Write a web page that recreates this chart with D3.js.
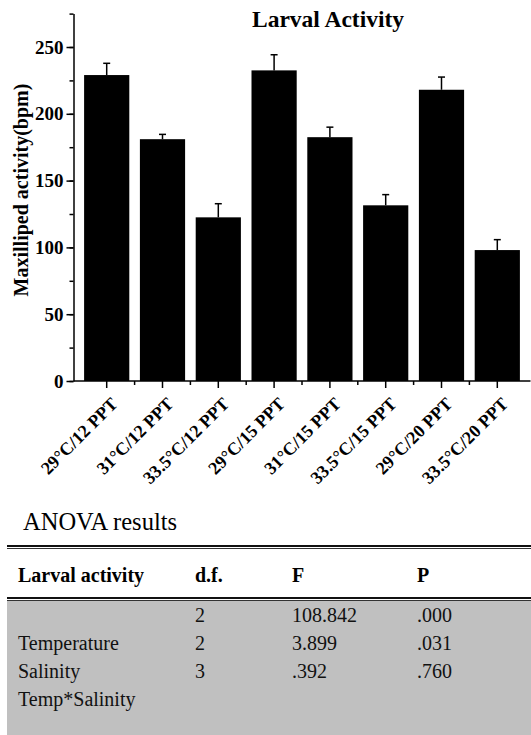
<!DOCTYPE html>
<html>
<head>
<meta charset="utf-8">
<script src="https://cdn.jsdelivr.net/npm/d3@7"></script>
</head>
<body style="margin:0">
<svg id="chart" width="531" height="735"></svg>
<script>
const groups = ["29°C/12 PPT", "31°C/12 PPT", "33.5°C/12 PPT", "29°C/15 PPT", "31°C/15 PPT", "33.5°C/15 PPT", "29°C/20 PPT", "33.5°C/20 PPT"]
const means = [229, 181, 122.5, 232.5, 182.5, 131.5, 218, 98]
const errors = [8.8, 3.6, 10.2, 11.7, 7.5, 8, 9.5, 7.8]
const yTicks = [0, 50, 100, 150, 200, 250]

const anovaHeader = ["Larval activity", "d.f.", "F", "P"]
const anovaRows = [
    ["", "2", "108.842", ".000"],
    ["Temperature", "2", "3.899", ".031"],
    ["Salinity", "3", ".392", ".760"],
    ["Temp*Salinity", "", "", ""]
]

const fontName = "Liberation Serif"

const svg = d3.select("#chart")

const x = d3.scaleBand()
    .domain(groups)
    .range([73.5, 530.5])
    .padding(0.19)

const y = d3.scaleLinear()
    .domain([0, 275])
    .range([381, 13.6])

// minor ticks first so the major ones sit on top
svg.append("g")
    .attr("transform", "translate(73.5,0)")
    .call(d3.axisLeft(y).tickValues(d3.range(0, 276, 25)).tickSize(4).tickFormat(""))
    .call(g => g.select(".domain").remove())
    .call(g => g.selectAll("line").attr("stroke-width", 1.5))

svg.append("g")
    .attr("transform", "translate(73.5,0)")
    .call(d3.axisLeft(y).tickValues(yTicks).tickSize(7).tickSizeOuter(0).tickPadding(3))
    .call(g => g.selectAll("line").attr("stroke-width", 1.5))
    .call(g => g.select(".domain").attr("stroke-width", 1.5))
    .call(g => g.selectAll("text")
        .style("font-family", fontName)
        .style("font-size", "19px")
        .style("font-weight", "bold")
        .attr("fill", "black"))

// bars
svg.selectAll(".bar")
    .data(means)
    .join("rect")
    .attr("class", "bar")
    .attr("x", (d, i) => x(groups[i]))
    .attr("y", d => y(d))
    .attr("width", x.bandwidth())
    .attr("height", d => y(0) - y(d))
    .attr("fill", "black")

// error bars (upper only)
const errG = svg.append("g").attr("stroke", "black").attr("stroke-width", 1.5)
means.forEach((m, i) => {
    const cx = x(groups[i]) + x.bandwidth() / 2
    errG.append("line")
        .attr("x1", cx).attr("x2", cx)
        .attr("y1", y(m)).attr("y2", y(m + errors[i]))
    errG.append("line")
        .attr("x1", cx - 3.5).attr("x2", cx + 3.5)
        .attr("y1", y(m + errors[i])).attr("y2", y(m + errors[i]))
})

// x axis: major ticks at bar centres, minor at band edges
const xAxis = svg.append("g")
    .attr("transform", `translate(0,${y(0)})`)
xAxis.append("line")
    .attr("x1", 73.5).attr("x2", 530.5)
    .attr("stroke", "black").attr("stroke-width", 1.5)
groups.forEach((g, i) => {
    const cx = x(g) + x.bandwidth() / 2
    xAxis.append("line")
        .attr("x1", cx).attr("x2", cx).attr("y1", 0).attr("y2", 7)
        .attr("stroke", "black").attr("stroke-width", 1.5)
    if (i > 0) {
        const bx = x(g) - x.step() * x.paddingInner() / 2
        xAxis.append("line")
            .attr("x1", bx).attr("x2", bx).attr("y1", 0).attr("y2", 4)
            .attr("stroke", "black").attr("stroke-width", 1.5)
    }
})

svg.selectAll(".xlabel")
    .data(groups)
    .join("text")
    .attr("class", "xlabel")
    .attr("transform", d => `translate(${x(d) + x.bandwidth() / 2 + 12},405) rotate(-45)`)
    .attr("text-anchor", "end")
    .style("font-family", fontName)
    .style("font-size", "18px")
    .style("font-weight", "bold")
    .text(d => d)

svg.append("text")
    .attr("transform", "translate(28,190) rotate(-90)")
    .attr("text-anchor", "middle")
    .style("font-family", fontName)
    .style("font-size", "20px")
    .style("font-weight", "bold")
    .text("Maxilliped activity(bpm)")

svg.append("text")
    .attr("x", 328)
    .attr("y", 27)
    .attr("text-anchor", "middle")
    .style("font-family", fontName)
    .style("font-size", "23.5px")
    .style("font-weight", "bold")
    .text("Larval Activity")

// ANOVA table
const colX = [18, 195, 292, 417]

svg.append("text")
    .attr("x", 23)
    .attr("y", 530)
    .style("font-family", fontName)
    .style("font-size", "24.5px")
    .text("ANOVA results")

svg.append("rect")
    .attr("x", 7).attr("y", 600)
    .attr("width", 524).attr("height", 135)
    .attr("fill", "#c0c0c0")

const rules = [546, 598]
rules.forEach(ry => {
    svg.append("line")
        .attr("x1", 7).attr("x2", 531).attr("y1", ry).attr("y2", ry)
        .attr("stroke", "#111").attr("stroke-width", 2)
    svg.append("line")
        .attr("x1", 7).attr("x2", 531).attr("y1", ry + 2.5).attr("y2", ry + 2.5)
        .attr("stroke", "#333").attr("stroke-width", 1)
})

svg.selectAll(".thead")
    .data(anovaHeader)
    .join("text")
    .attr("class", "thead")
    .attr("x", (d, i) => colX[i])
    .attr("y", 582)
    .style("font-family", fontName)
    .style("font-size", "20px")
    .style("font-weight", "bold")
    .text(d => d)

anovaRows.forEach((row, r) => {
    svg.selectAll(".trow" + r)
        .data(row)
        .join("text")
        .attr("x", (d, i) => colX[i])
        .attr("y", 622 + r * 28)
        .style("font-family", fontName)
        .style("font-size", "20px")
        .attr("fill", "#111")
        .text(d => d)
})
</script>
</body>
</html>
